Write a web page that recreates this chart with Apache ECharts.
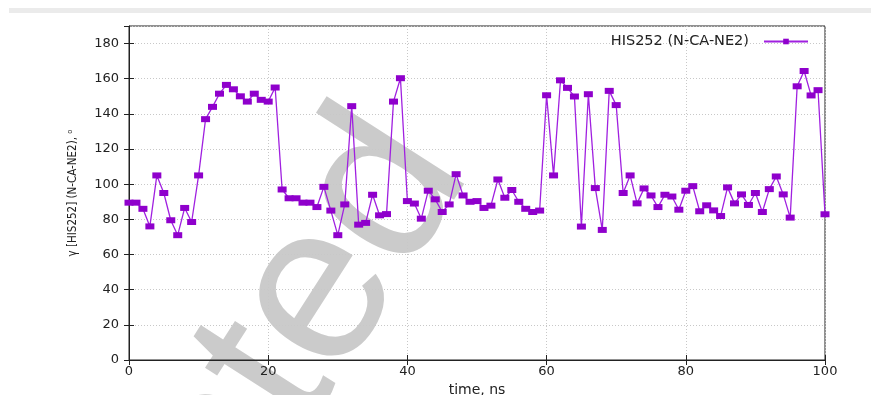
<!DOCTYPE html>
<html>
<head>
<meta charset="utf-8">
<script src="https://cdn.jsdelivr.net/npm/echarts@6/dist/echarts.min.js"></script>
<style>
html,body{margin:0;padding:0;background:#fff;}
#chart{width:871px;height:395px;}
</style>
</head>
<body>
<div id="chart"></div>
<script>
var seriesName = 'HIS252 (N-CA-NE2)';
var times = [];
for (var t = 0; t <= 100; t++) times.push(t);
var angles = [
  89.5, 89.5, 86, 76, 105, 95, 79.5, 71, 86.5, 78.5,
  105, 137, 144, 151.5, 156.5, 154, 150, 147, 151.5, 148,
  147, 155, 97, 92, 92, 89.5, 89.5, 87, 98.5, 85,
  71, 88.5, 144.4, 77, 78, 94, 82.3, 83, 147, 160.3,
  90.4, 89, 80.4, 96.3, 91.4, 84.2, 88.5, 105.7, 93.6, 90,
  90.4, 86.5, 87.8, 102.7, 92.3, 96.7, 90, 86, 84.2, 85,
  150.6, 105, 159.1, 154.8, 149.9, 75.9, 151.2, 97.8, 74, 153.1,
  145, 95, 105, 89.1, 97.6, 93.6, 87, 94, 93, 85.5,
  96.3, 98.9, 84.6, 88, 85.1, 81.9, 98.2, 89.1, 94.2, 88.2,
  95, 84.2, 97.2, 104.4, 94.2, 81, 155.7, 164.4, 150.5, 153.5,
  82.9
];
var xTicks = [0, 20, 40, 60, 80, 100];
var yTicks = [0, 20, 40, 60, 80, 100, 120, 140, 160, 180];
var watermarkText = 'Accepted';

var chart = echarts.init(document.getElementById('chart'), null, {renderer: 'canvas'});
var pts = times.map(function (x, i) { return [x, angles[i]]; });
var axisColor = '#222';
var labelFont = {color: '#222', fontFamily: 'DejaVu Sans', fontSize: 13};
var gridLine = {show: true, lineStyle: {color: '#c8c8c8', type: [1, 2], width: 1}};

chart.setOption({
  animation: false,
  backgroundColor: '#fff',
  graphic: [
    {type: 'rect', z: -10, shape: {x: 9, y: 8, width: 862, height: 5}, style: {fill: '#ebebeb'}},
    {type: 'text', z: -5, x: 420, y: 138, rotation: 1.0, originX: 0, originY: 0,
     style: {text: watermarkText, font: '225px "Liberation Sans"', fill: '#cbcbcb', align: 'right', verticalAlign: 'middle'}}
  ],
  grid: {left: 129, right: 46, top: 26, bottom: 35, outerBoundsMode: 'none', containLabel: false,
         show: true, borderColor: axisColor, borderWidth: 1, backgroundColor: 'transparent'},
  legend: {
    data: [seriesName], right: 57, top: 29, align: 'right', itemWidth: 44, itemHeight: 7, itemGap: 10,
    textStyle: {color: '#222', fontFamily: 'DejaVu Sans', fontSize: 14.5, padding: [0, 10, 0, 0]}
  },
  xAxis: [{
    type: 'value', min: 0, max: 100, interval: 20,
    name: 'time, ns', nameLocation: 'middle', nameGap: 19,
    nameTextStyle: {color: '#222', fontFamily: 'DejaVu Sans', fontSize: 14},
    axisLine: {show: true, onZero: false, lineStyle: {color: axisColor, width: 1}},
    axisTick: {show: true, inside: true, length: 5, lineStyle: {color: axisColor}},
    axisLabel: Object.assign({margin: 5}, labelFont),
    splitLine: gridLine
  }, {
    type: 'value', position: 'top', min: 0, max: 100, interval: 20,
    axisLine: {show: false}, axisLabel: {show: false}, splitLine: {show: false},
    axisTick: {show: true, inside: true, length: 5, lineStyle: {color: axisColor}}
  }],
  yAxis: [{
    type: 'value', min: 0, max: 190, interval: 20,
    name: 'γ [HIS252] (N-CA-NE2), ⁰', nameLocation: 'middle', nameGap: 50, nameRotate: 90,
    nameTextStyle: {color: '#222', fontFamily: 'DejaVu Sans Condensed', fontSize: 11.5},
    axisLine: {show: true, lineStyle: {color: axisColor, width: 1}},
    axisTick: {show: true, inside: true, length: 5, lineStyle: {color: axisColor}},
    axisLabel: Object.assign({margin: 10, showMaxLabel: false}, labelFont),
    splitLine: gridLine
  }, {
    type: 'value', position: 'right', min: 0, max: 190, interval: 20,
    axisLine: {show: false}, axisLabel: {show: false}, splitLine: {show: false},
    axisTick: {show: true, inside: true, length: 5, lineStyle: {color: axisColor}}
  }],
  series: [{
    name: seriesName, type: 'line', data: pts,
    symbol: 'rect', symbolSize: [9, 6], showAllSymbol: true,
    lineStyle: {color: '#a020e0', width: 1.3},
    itemStyle: {color: '#8f00cc'},
    z: 5
  }]
});
</script>
</body>
</html>
